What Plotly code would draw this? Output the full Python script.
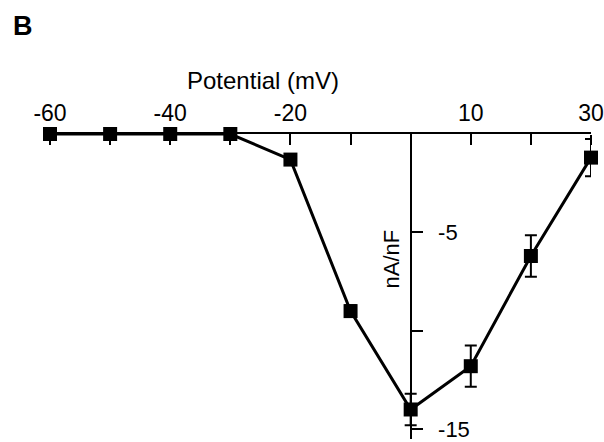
import plotly.graph_objects as go

potential = [-60, -50, -40, -30, -20, -10, 0, 10, 20, 30]
current = [0, 0, 0, 0, -1.3, -9.0, -14.0, -11.8, -6.2, -1.2]
current_err = [0.2, 0.2, 0.2, 0.2, 0.25, 0.3, 0.8, 1.05, 1.05, 0.95]

x_tickvals = [-60, -50, -40, -30, -20, -10, 0, 10, 20, 30]
x_ticktext = ["-60", "", "-40", "", "-20", "", "", "10", "", "30"]
y_tickvals = [-5, -10, -15]
y_ticktext = ["-5", "", "-15"]

W, H = 604, 442
L, R, T, B = 50, 11, 134, 0
pw, ph = W - L - R, H - T - B

def px_x(p):
    return (p - L) / pw

def px_y(p):
    return (H - B - p) / ph

fig = go.Figure()
fig.add_trace(go.Scatter(
    x=potential, y=current,
    mode="lines+markers",
    line=dict(color="black", width=3),
    marker=dict(symbol="square", size=14, color="black"),
    error_y=dict(type="data", array=current_err, visible=True,
                 color="black", thickness=2, width=6),
    cliponaxis=False,
    showlegend=False,
))
# invisible helper trace so the tick-only overlay axis is drawn
fig.add_trace(go.Scatter(
    x=potential, y=current, xaxis="x2", yaxis="y",
    mode="lines", line=dict(width=0), opacity=0,
    hoverinfo="skip", showlegend=False,
))

fig.update_layout(
    width=W, height=H,
    margin=dict(l=L, r=R, t=T, b=B),
    paper_bgcolor="white", plot_bgcolor="white",
    font=dict(family="Liberation Sans, Arial, sans-serif", color="black", size=20),
    xaxis=dict(
        range=[-60, 30], side="top",
        tickvals=x_tickvals, ticktext=x_ticktext,
        ticks="inside", ticklen=10, tickwidth=2, tickcolor="black",
        showline=True, linecolor="black", linewidth=2,
        showgrid=False, zeroline=False,
        tickfont=dict(size=23),
        ticklabelstandoff=2,
        ticklabeloverflow="allow",
    ),
    xaxis2=dict(
        range=[-60, 30], overlaying="x", anchor="free", position=1, side="bottom",
        tickvals=x_tickvals, showticklabels=False,
        ticks="outside", ticklen=10, tickwidth=2, tickcolor="black",
        showline=False, showgrid=False, zeroline=False,
    ),
    yaxis=dict(
        range=[-15.5, 0], anchor="free", position=362/543, side="right",
        tickvals=y_tickvals, ticktext=y_ticktext,
        ticks="outside", ticklen=11, tickwidth=2, tickcolor="black",
        showline=True, linecolor="black", linewidth=2,
        showgrid=False, zeroline=False,
        tickfont=dict(size=22),
        ticklabelstandoff=11,
        ticklabeloverflow="allow",
    ),
    annotations=[
        dict(text="<b>B</b>", x=px_x(23), y=px_y(25), xref="paper", yref="paper",
             xanchor="center", yanchor="middle", showarrow=False, font=dict(size=27)),
        dict(text="Potential (mV)", x=px_x(264), y=px_y(80), xref="paper", yref="paper",
             xanchor="center", yanchor="middle", showarrow=False, font=dict(size=24)),
        dict(text="nA/nF", x=px_x(393), y=px_y(260), xref="paper", yref="paper",
             xanchor="center", yanchor="middle", textangle=-90,
             showarrow=False, font=dict(size=22)),
    ],
)

fig.write_html("out.html")
